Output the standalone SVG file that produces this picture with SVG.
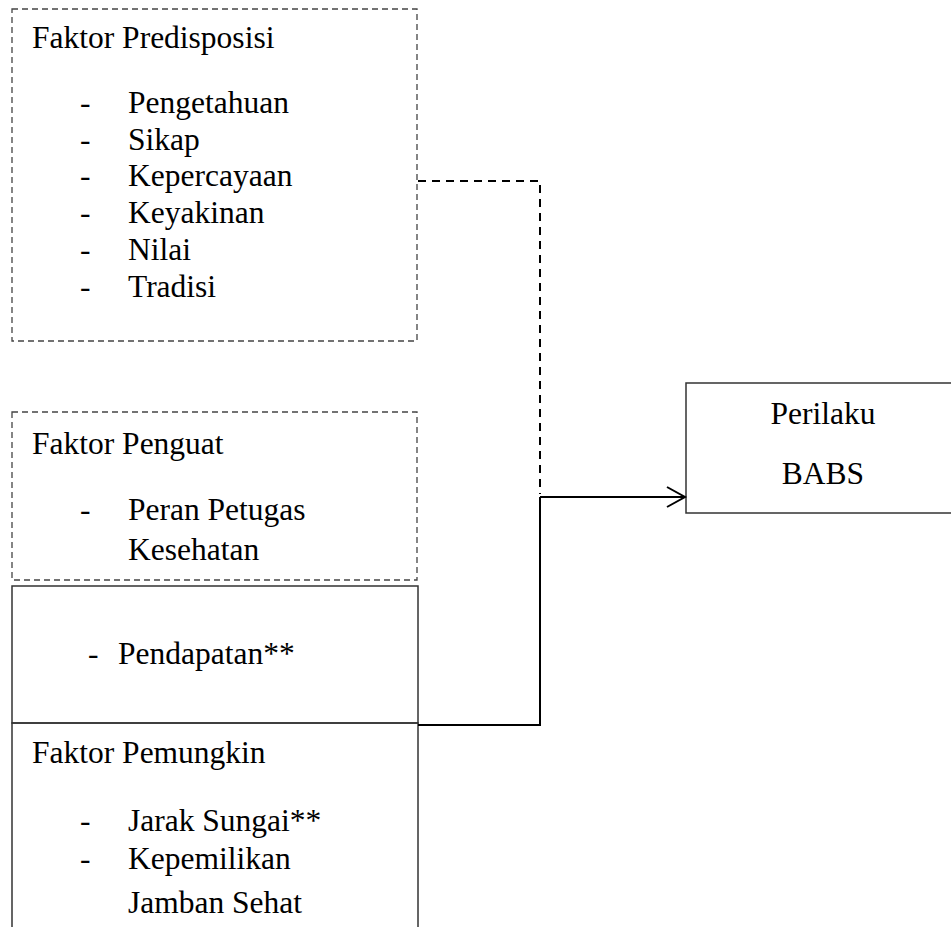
<svg xmlns="http://www.w3.org/2000/svg" width="951" height="927" viewBox="0 0 951 927">
<defs>
<style>
text{font-family:"Liberation Serif","Times New Roman",serif;font-size:31.5px;fill:#000}
.dbox{fill:none;stroke:#444;stroke-width:1.3;stroke-dasharray:6 4}
.sbox{fill:none;stroke:#333;stroke-width:1.5}
.conn{fill:none;stroke:#000;stroke-width:2}
.dconn{fill:none;stroke:#000;stroke-width:2;stroke-dasharray:8 6}
.mid{text-anchor:middle}
</style>
<marker id="arr" markerWidth="22" markerHeight="26" refX="19" refY="12" orient="auto" markerUnits="userSpaceOnUse">
<path d="M1,2 L19,12 L1,22" fill="none" stroke="#000" stroke-width="2"/>
</marker>
</defs>
<rect width="951" height="927" fill="#fff"/>

<g id="predisposisi">
<rect class="dbox" x="12" y="9" width="405" height="332"/>
<text x="32" y="48">Faktor Predisposisi</text>
<text x="80" y="113">-</text><text x="128" y="113">Pengetahuan</text>
<text x="80" y="150">-</text><text x="128" y="150">Sikap</text>
<text x="80" y="186">-</text><text x="128" y="186">Kepercayaan</text>
<text x="80" y="223">-</text><text x="128" y="223">Keyakinan</text>
<text x="80" y="260">-</text><text x="128" y="260">Nilai</text>
<text x="80" y="297">-</text><text x="128" y="297">Tradisi</text>
</g>

<g id="penguat">
<rect class="dbox" x="12" y="412" width="405" height="168"/>
<text x="32" y="454">Faktor Penguat</text>
<text x="80" y="520">-</text><text x="128" y="520">Peran Petugas</text>
<text x="128" y="560">Kesehatan</text>
</g>

<g id="pendapatan">
<rect class="sbox" x="12" y="586" width="406" height="137"/>
<text x="88" y="664">-</text><text x="118" y="664">Pendapatan**</text>
</g>

<g id="pemungkin">
<rect class="sbox" x="12" y="723" width="406" height="220"/>
<text x="32" y="763">Faktor Pemungkin</text>
<text x="80" y="831">-</text><text x="128" y="831">Jarak Sungai**</text>
<text x="80" y="869">-</text><text x="128" y="869">Kepemilikan</text>
<text x="128" y="913">Jamban Sehat</text>
</g>

<g id="perilaku">
<rect class="sbox" x="686" y="383" width="280" height="130"/>
<text class="mid" x="823" y="424">Perilaku</text>
<text class="mid" x="823" y="484">BABS</text>
</g>

<g id="connectors">
<path class="dconn" d="M418,181 H540 V494"/>
<path class="conn" d="M418,725 H540 V497"/>
<path class="conn" d="M540,497 H685" marker-end="url(#arr)"/>
</g>
</svg>
